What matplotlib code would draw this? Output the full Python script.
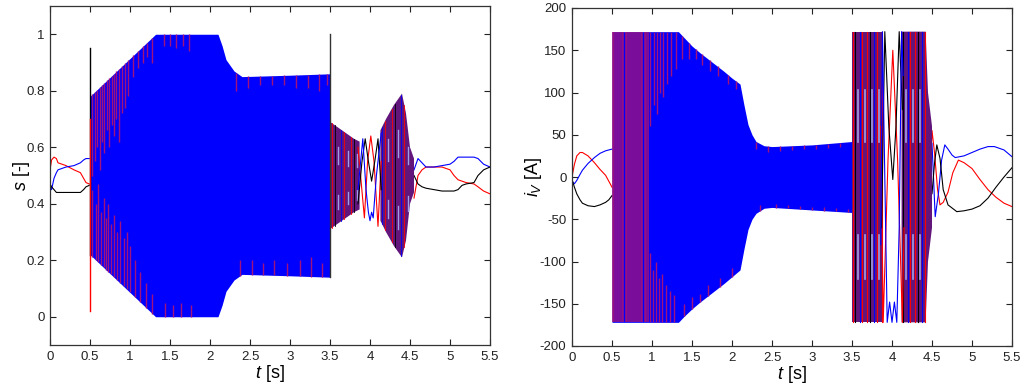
import numpy as np
import matplotlib
matplotlib.use("Agg")
import matplotlib.pyplot as plt

plt.rcParams['font.family'] = ['Liberation Sans', 'DejaVu Sans']
plt.rcParams['mathtext.fontset'] = 'custom'
plt.rcParams['mathtext.rm'] = 'Liberation Sans'
plt.rcParams['mathtext.it'] = 'Liberation Sans:italic'

# ---------------- data: left panel (s [-]) ----------------
xticks = [0, 0.5, 1, 1.5, 2, 2.5, 3, 3.5, 4, 4.5, 5, 5.5]
xticklabels = ['0', '0.5', '1', '1.5', '2', '2.5', '3', '3.5', '4', '4.5', '5', '5.5']
s_yticks = [0, 0.2, 0.4, 0.6, 0.8, 1.0]
s_yticklabels = ['0', '0.2', '0.4', '0.6', '0.8', '1']

# slow (pre/post switching) curves
s_pre_t = [0.0, 0.02, 0.05, 0.08, 0.1, 0.2, 0.3, 0.38, 0.42, 0.45, 0.49]
s_pre_red = [0.52, 0.555, 0.565, 0.56, 0.545, 0.535, 0.52, 0.51, 0.49, 0.475, 0.47]
s_pre_blue = [0.47, 0.45, 0.49, 0.51, 0.52, 0.53, 0.535, 0.545, 0.555, 0.56, 0.56]
s_pre_black = [0.47, 0.46, 0.45, 0.44, 0.44, 0.44, 0.44, 0.44, 0.45, 0.46, 0.465]

s_post_t = [4.55, 4.6, 4.65, 4.7, 4.8, 4.9, 5.0, 5.05, 5.1, 5.15, 5.2, 5.3, 5.35, 5.42, 5.5]
s_post_blue = [0.52, 0.56, 0.545, 0.53, 0.53, 0.535, 0.54, 0.55, 0.565, 0.565, 0.565, 0.565, 0.56, 0.54, 0.53]
s_post_red = [0.42, 0.5, 0.52, 0.53, 0.53, 0.53, 0.52, 0.5, 0.485, 0.48, 0.475, 0.47, 0.46, 0.445, 0.435]
s_post_black = [0.5, 0.47, 0.46, 0.455, 0.45, 0.445, 0.445, 0.445, 0.45, 0.465, 0.47, 0.475, 0.5, 0.52, 0.53]

# envelope of the dense modulation (0.5 .. 3.5 s)
s_env_t = [0.5, 1.32, 2.1, 2.15, 2.2, 2.3, 2.4, 3.0, 3.5]
s_env_hi = [0.78, 1.0, 1.0, 0.96, 0.91, 0.87, 0.85, 0.855, 0.86]
s_env_lo = [0.22, 0.0, 0.0, 0.04, 0.09, 0.13, 0.15, 0.145, 0.14]

# envelope of the mixed region (3.5 .. 4.55 s)
s_mixA_t = [3.5, 3.6, 3.7, 3.8, 3.87]
s_mixA_hi = [0.69, 0.67, 0.65, 0.63, 0.62]
s_mixA_lo = [0.31, 0.33, 0.35, 0.37, 0.38]
s_mixB_t = [4.13, 4.2, 4.3, 4.4, 4.45, 4.5, 4.55]
s_mixB_hi = [0.66, 0.7, 0.75, 0.79, 0.72, 0.6, 0.56]
s_mixB_lo = [0.34, 0.3, 0.25, 0.21, 0.27, 0.4, 0.44]

# low-frequency passage around 4 s
s_mid_red_t = [3.85, 3.93, 3.97, 4.01, 4.05, 4.1, 4.14]
s_mid_red = [0.6, 0.35, 0.55, 0.64, 0.55, 0.32, 0.55]
s_mid_black_t = [3.85, 3.9, 3.94, 3.98, 4.02, 4.06, 4.1, 4.14]
s_mid_black = [0.4, 0.55, 0.63, 0.55, 0.48, 0.55, 0.63, 0.45]
s_mid_blue_t = [3.85, 3.91, 3.95, 3.98, 4.0, 4.02, 4.04, 4.08, 4.14]
s_mid_blue = [0.45, 0.63, 0.45, 0.37, 0.34, 0.37, 0.35, 0.5, 0.65]

# single switching spikes
s_spike_t = [0.5, 0.5, 3.5]
s_spike_lo = [0.22, 0.02, 0.14]
s_spike_hi = [0.95, 0.7, 1.0]

# phase stripes hanging from envelope edges
s_top_t = [0.53, 0.56, 0.59, 0.62, 0.65, 0.68, 0.71, 0.74, 0.77, 0.8, 0.83, 0.86, 0.9, 0.94, 0.98,
           1.04, 1.1, 1.16, 1.21, 1.27, 1.42, 1.5, 1.58, 1.66, 1.74, 2.33, 2.48, 2.63, 2.78, 2.93,
           3.08, 3.22, 3.36, 3.46]
s_top_end = [0.5, 0.55, 0.6, 0.52, 0.62, 0.58, 0.66, 0.6, 0.68, 0.64, 0.7, 0.62, 0.72, 0.74, 0.78,
             0.85, 0.88, 0.9, 0.92, 0.9, 0.96, 0.96, 0.95, 0.96, 0.94, 0.8, 0.81, 0.82, 0.82, 0.82,
             0.81, 0.81, 0.8, 0.82]
s_bot_t = [0.53, 0.57, 0.6, 0.64, 0.67, 0.7, 0.73, 0.76, 0.8, 0.84, 0.88, 0.92, 0.96, 1.0, 1.06,
           1.12, 1.2, 1.28, 1.44, 1.54, 1.64, 1.76, 2.38, 2.52, 2.66, 2.8, 2.96, 3.12, 3.26, 3.4]
s_bot_end = [0.45, 0.4, 0.47, 0.37, 0.42, 0.35, 0.4, 0.33, 0.36, 0.3, 0.34, 0.28, 0.3, 0.25, 0.2,
             0.16, 0.12, 0.08, 0.05, 0.04, 0.05, 0.04, 0.2, 0.2, 0.19, 0.2, 0.19, 0.2, 0.21, 0.19]
s_mix_t = [3.52, 3.56, 3.6, 3.64, 3.68, 3.72, 3.76, 3.8, 3.84, 4.15, 4.19, 4.23, 4.27, 4.31,
           4.35, 4.39, 4.43, 4.47]

# ---------------- data: right panel (i_V [A]) ----------------
iv_yticks = [-200, -150, -100, -50, 0, 50, 100, 150, 200]
iv_yticklabels = ['-200', '-150', '-100', '-50', '0', '50', '100', '150', '200']

iv_pre_t = [0.0, 0.03, 0.06, 0.1, 0.13, 0.2, 0.28, 0.35, 0.42, 0.46, 0.5]
iv_pre_red = [0, 15, 25, 29, 29, 25, 17, 9, 2, -5, -12]
iv_pre_blue = [-5, -8, -4, 3, 8, 16, 23, 28, 31, 32, 33]
iv_pre_black = [-3, -12, -20, -27, -31, -34, -35, -33, -30, -27, -22]

iv_post_red_t = [4.45, 4.5, 4.53, 4.57, 4.6, 4.64, 4.7, 4.76, 4.83, 4.9, 5.0, 5.1, 5.2, 5.3, 5.4, 5.5]
iv_post_red = [-60, 55, 30, -15, -33, -30, -18, 5, 20, 17, 10, -3, -15, -24, -31, -35]
iv_post_black_t = [4.45, 4.5, 4.53, 4.56, 4.6, 4.64, 4.7, 4.81, 4.9, 5.0, 5.1, 5.2, 5.3, 5.4, 5.5]
iv_post_black = [50, -20, 15, 38, 22, -15, -33, -41, -40, -38, -34, -25, -12, 0, 11]
iv_post_blue_t = [4.45, 4.5, 4.54, 4.58, 4.62, 4.66, 4.7, 4.75, 4.79, 4.9, 5.0, 5.1, 5.2, 5.28, 5.4, 5.5]
iv_post_blue = [-70, 40, -47, -20, 20, 38, 33, 26, 23, 25, 29, 33, 36, 36, 32, 24]

iv_env_t = [0.5, 1.33, 1.4, 1.5, 1.6, 1.75, 1.9, 2.0, 2.1, 2.12, 2.15, 2.2, 2.25, 2.3, 2.4, 2.5, 3.0, 3.5]
iv_env_hi = [172, 172, 165, 155, 147, 136, 125, 117, 110, 100, 85, 62, 50, 42, 37, 36, 38, 42]
iv_env_lo = [-172, -172, -165, -156, -148, -137, -126, -118, -110, -100, -85, -62, -50, -43, -37, -36, -39, -42]

iv_mixA_t = [3.5, 3.6, 3.7, 3.8, 3.88]
iv_mixA_hi = [172, 172, 172, 172, 172]
iv_mixA_lo = [-172, -172, -172, -172, -172]
iv_mixB_t = [4.12, 4.2, 4.3, 4.42, 4.45, 4.5]
iv_mixB_hi = [172, 172, 172, 172, 100, 60]
iv_mixB_lo = [-172, -172, -172, -172, -100, -60]

iv_mid_red_t = [3.86, 3.89, 3.95, 4.01, 4.07, 4.13, 4.15]
iv_mid_red = [60, -172, 20, 150, 20, -172, -60]
iv_mid_black_t = [3.87, 3.91, 3.96, 4.01, 4.05, 4.09, 4.13]
iv_mid_black = [-60, 172, 60, -3, 60, 172, 80]
iv_mid_blue_t = [3.86, 3.88, 3.91, 3.94, 3.97, 4.0, 4.03, 4.06, 4.09, 4.12, 4.14]
iv_mid_blue = [-80, 172, 0, -172, -148, -172, -148, -172, -60, 172, 120]

iv_purple_t = [0.51, 0.53, 0.55, 0.57, 0.6, 0.62, 0.64, 0.67, 0.69, 0.71, 0.74, 0.76, 0.79,
               0.81, 0.84, 0.86, 0.88, 0.91, 0.93, 0.95]
iv_top_t = [0.98, 1.02, 1.06, 1.1, 1.14, 1.19, 1.24, 1.3, 1.38, 1.46, 1.55, 1.62, 1.72, 1.82,
            1.95, 2.05, 2.3, 2.45, 2.6, 2.75, 2.9, 3.05, 3.2, 3.35]
iv_top_end = [60, 85, 75, 100, 95, 110, 120, 128, 140, 140, 140, 132, 126, 120, 110, 104,
              33, 30, 31, 32, 33, 33, 34, 35]
iv_bot_t = [0.97, 1.01, 1.05, 1.09, 1.13, 1.17, 1.22, 1.27, 1.4, 1.5, 1.6, 1.7, 1.85, 2.0,
            2.35, 2.55, 2.7, 2.85, 3.0, 3.15, 3.3, 3.45]
iv_bot_end = [-90, -110, -100, -120, -115, -128, -135, -140, -150, -142, -138, -128, -120, -108,
              -33, -32, -33, -34, -35, -36, -37, -38]
iv_mix_t = [3.51, 3.54, 3.57, 3.6, 3.63, 3.66, 3.69, 3.72, 3.75, 3.78, 3.81, 3.84, 3.87,
            4.14, 4.17, 4.2, 4.23, 4.26, 4.29, 4.32, 4.35, 4.38, 4.41]

BLUE = '#0000ff'
RED = '#ff0000'
STRIPE = '#a0127c'
PURPLE = '#62167c'
LAV = '#a19fe3'

fig = plt.figure(figsize=(10.24, 3.85), dpi=100)
axL = fig.add_axes([50 / 1024, 1 - 345 / 385, 440 / 1024, 339 / 385])
axR = fig.add_axes([572 / 1024, 1 - 346 / 385, 440 / 1024, 338 / 385])

mix_cols = [RED, 'black', LAV, BLUE, RED, LAV]


def mixed_stripes(ax, times, a_t, a_lo, a_hi, b_t, b_lo, b_hi, lw):
    for i, t in enumerate(times):
        if t < 4:
            lo, hi = np.interp(t, a_t, a_lo), np.interp(t, a_t, a_hi)
        else:
            lo, hi = np.interp(t, b_t, b_lo), np.interp(t, b_t, b_hi)
        c = mix_cols[i % len(mix_cols)]
        if c == LAV:
            span = hi - lo
            ax.plot([t, t], [lo + 0.15 * span, lo + 0.3 * span], color=c, lw=lw + 0.4, zorder=4)
            ax.plot([t, t], [lo + 0.62 * span, lo + 0.8 * span], color=c, lw=lw + 0.4, zorder=4)
        else:
            ax.plot([t, t], [lo, hi], color=c, lw=lw, zorder=4)


# ---------- left ----------
ax = axL
ax.fill_between(s_env_t, s_env_lo, s_env_hi, color=BLUE, lw=0, zorder=2)
ax.fill_between(s_mixA_t, s_mixA_lo, s_mixA_hi, facecolor=PURPLE, edgecolor='none', zorder=3)
ax.fill_between(s_mixB_t, s_mixB_lo, s_mixB_hi, facecolor=PURPLE, edgecolor='none', zorder=3)
ax.vlines(s_top_t, s_top_end, np.interp(s_top_t, s_env_t, s_env_hi), color=STRIPE, lw=1.0, zorder=3)
ax.vlines(s_bot_t, np.interp(s_bot_t, s_env_t, s_env_lo), s_bot_end, color=STRIPE, lw=1.0, zorder=3)
mixed_stripes(ax, s_mix_t, s_mixA_t, s_mixA_lo, s_mixA_hi, s_mixB_t, s_mixB_lo, s_mixB_hi, 0.6)
ax.plot(s_mid_red_t, s_mid_red, color=RED, lw=0.8, zorder=5)
ax.plot(s_mid_black_t, s_mid_black, color='black', lw=0.8, zorder=5)
ax.plot(s_mid_blue_t, s_mid_blue, color=BLUE, lw=0.8, zorder=5)
for t, lo, hi, c in zip(s_spike_t, s_spike_lo, s_spike_hi, ['black', RED, '#333333']):
    ax.plot([t, t], [lo, hi], color=c, lw=1.0, zorder=6)
ax.plot(s_pre_t, s_pre_red, color=RED, lw=0.8)
ax.plot(s_pre_t, s_pre_blue, color=BLUE, lw=0.8)
ax.plot(s_pre_t, s_pre_black, color='black', lw=0.8)
ax.plot(s_post_t, s_post_red, color=RED, lw=0.8)
ax.plot(s_post_t, s_post_blue, color=BLUE, lw=0.8)
ax.plot(s_post_t, s_post_black, color='black', lw=0.8)
ax.set_ylim(-0.1, 1.1)
ax.set_yticks(s_yticks)
ax.set_yticklabels(s_yticklabels)
ax.set_ylabel(r'$s$ [-]', fontsize=13, labelpad=-4)

# ---------- right ----------
ax = axR
ax.fill_between(iv_env_t, iv_env_lo, iv_env_hi, color=BLUE, lw=0, zorder=2)
ax.vlines(iv_purple_t, -172, 172, color=STRIPE, lw=1.1, zorder=3)
ax.vlines(iv_top_t, iv_top_end, np.interp(iv_top_t, iv_env_t, iv_env_hi), color=STRIPE, lw=1.0, zorder=3)
ax.vlines(iv_bot_t, np.interp(iv_bot_t, iv_env_t, iv_env_lo), iv_bot_end, color=STRIPE, lw=1.0, zorder=3)
ax.fill_between(iv_mixA_t, iv_mixA_lo, iv_mixA_hi, facecolor=PURPLE, edgecolor='none', zorder=3)
ax.fill_between(iv_mixB_t, iv_mixB_lo, iv_mixB_hi, facecolor=PURPLE, edgecolor='none', zorder=3)
mixed_stripes(ax, iv_mix_t, iv_mixA_t, iv_mixA_lo, iv_mixA_hi, iv_mixB_t, iv_mixB_lo, iv_mixB_hi, 0.8)
ax.plot(iv_mid_red_t, iv_mid_red, color=RED, lw=0.8, zorder=5)
ax.plot(iv_mid_black_t, iv_mid_black, color='black', lw=0.8, zorder=5)
ax.plot(iv_mid_blue_t, iv_mid_blue, color=BLUE, lw=0.8, zorder=5)
ax.plot(iv_pre_t, iv_pre_red, color=RED, lw=0.8)
ax.plot(iv_pre_t, iv_pre_blue, color=BLUE, lw=0.8)
ax.plot(iv_pre_t, iv_pre_black, color='black', lw=0.8)
ax.plot(iv_post_red_t, iv_post_red, color=RED, lw=0.8)
ax.plot(iv_post_blue_t, iv_post_blue, color=BLUE, lw=0.8)
ax.plot(iv_post_black_t, iv_post_black, color='black', lw=0.8)
ax.set_ylim(-200, 200)
ax.set_yticks(iv_yticks)
ax.set_yticklabels(iv_yticklabels)
ax.set_ylabel(r'$i_V$ [A]', fontsize=13, labelpad=-3)

for ax in (axL, axR):
    ax.set_xlim(0, 5.5)
    ax.set_xticks(xticks)
    ax.set_xticklabels(xticklabels)
    ax.set_xlabel(r'$t$ [s]', fontsize=13, labelpad=0)
    ax.tick_params(direction='in', top=True, right=True, length=4, width=0.8,
                   labelsize=9.5, colors='#222222', pad=4)
    for sp in ax.spines.values():
        sp.set_color('#333333')
        sp.set_linewidth(0.9)

fig.savefig('out.png', dpi=100)
